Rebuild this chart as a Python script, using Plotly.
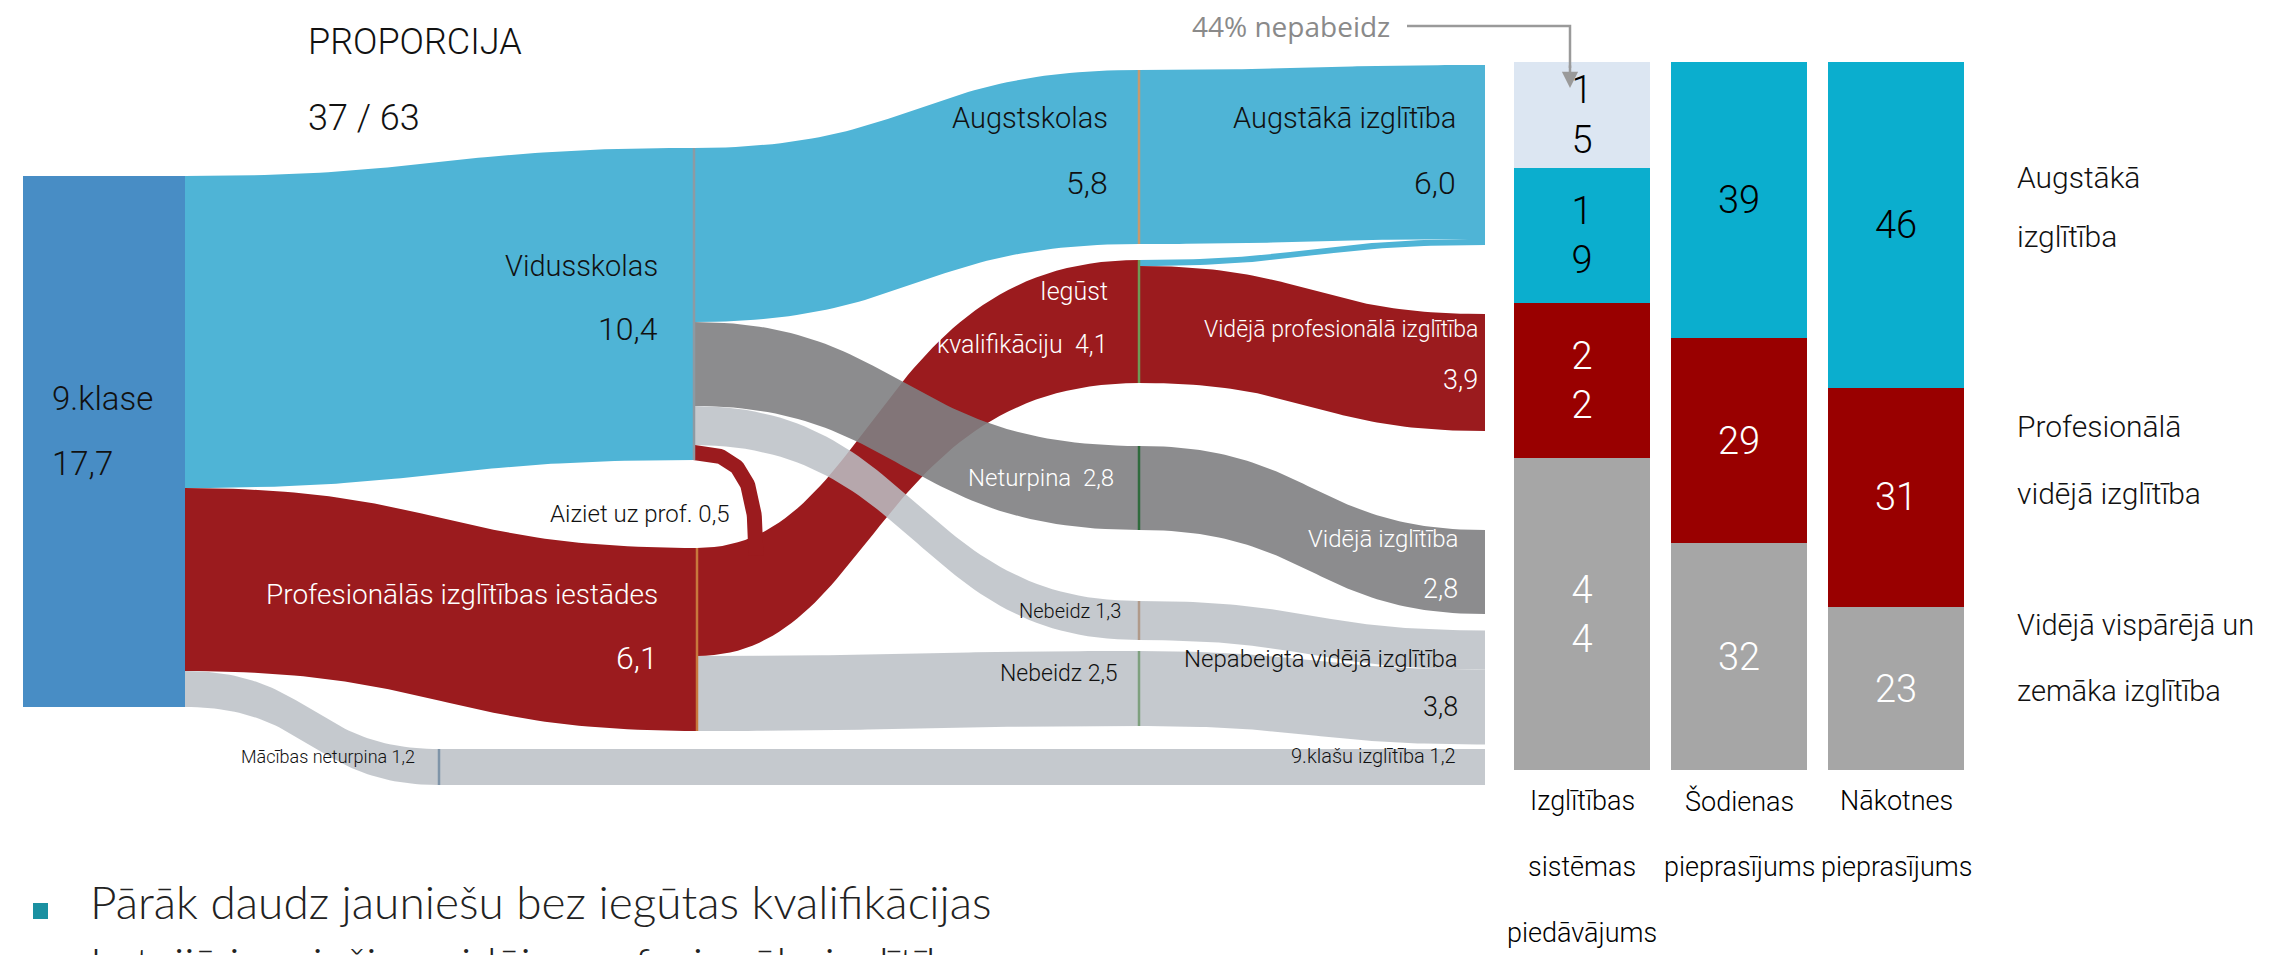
import plotly.graph_objects as go

W, H = 2272, 955
K = 30.0  # pixels per thousand pupils (vertical scale of the flow diagram)

# ---------------- DATA ----------------
node_names = ["9.klase", "Vidusskolas", "Profesionālās izglītības iestādes", "Mācības neturpina",
              "Augstskolas", "Iegūst kvalifikāciju", "Neturpina", "Nebeidz (vidusskola)", "Nebeidz (prof.)",
              "Augstākā izglītība", "Vidējā profesionālā izglītība", "Vidējā izglītība",
              "Nepabeigta vidējā izglītība", "9.klašu izglītība"]
node_values = [17.7, 10.4, 6.1, 1.2, 5.8, 4.1, 2.8, 1.3, 2.5, 6.0, 3.9, 2.8, 3.8, 1.2]

flow_source = [0, 0, 0, 1, 1, 1, 1, 2, 2, 4, 5, 5, 6, 7, 8, 3]
flow_target = [1, 2, 3, 4, 6, 7, 5, 5, 8, 9, 9, 10, 11, 12, 12, 13]
flow_value = [10.4, 6.1, 1.2, 5.8, 2.8, 1.3, 0.5, 3.6, 2.5, 5.8, 0.2, 3.9, 2.8, 1.3, 2.5, 1.2]

bar_categories = ["Izglītības sistēmas piedāvājums", "Šodienas pieprasījums", "Nākotnes pieprasījums"]
share_general = [44, 32, 23]
share_prof = [22, 29, 31]
share_higher = [19, 39, 46]
share_higher_dropout = [15, 0, 0]

# ---------------- LAYOUT / STYLE ----------------
NODE_X = [177, 686, 689, 431, 1131, 1131, 1131, 1131, 1131, 1477, 1477, 1477, 1477, 1477]
NODE_TOP = [5.6, 4.667, 18.0, 24.7, 2.067, 8.4, 14.6, 19.767, 21.433, 1.9, 10.2, 17.4, 20.75, 24.7]
BLOCK_LEFT = 15  # left edge of the 9.klase block
BEND = {7: 0.40, 4: 0.47}  # where along the span a flow changes level (default 0.5)

BLUE_NODE = "rgb(72,141,197)"
BLUE = "rgb(79,180,214)"
RED = "rgb(155,27,30)"
DGREY = "rgba(127,128,130,0.9)"
LGREY = "rgba(187,191,197,0.85)"
flow_color = [BLUE, RED, LGREY, BLUE, DGREY, LGREY, RED, RED, LGREY, BLUE, BLUE, RED, DGREY, LGREY, LGREY, LGREY]
node_line_color = [None, "#8d9aa3", "#c8783c", "#7f94a8", "#c89a6e", "#6f9a55", "#2f6b3c",
                   "#b09a8a", "#7ea07e", None, None, None, None, None]
LOOP_FLOW = 6  # "Aiziet uz prof." drawn as a loop joining the red stream

BAR_GREY = "#a6a6a6"
BAR_RED = "#990000"
BAR_BLUE = "rgb(11,174,206)"
BAR_LIGHT = "rgb(220,230,242)"

COND = "Roboto, Liberation Sans, sans-serif"
LIGHT = "Lato, Open Sans, Noto Sans, sans-serif"

# ---------------- FLOW GEOMETRY ----------------
out_off = [0.0] * len(node_names)
in_off = [0.0] * len(node_names)
slots = []
for s, t, v in zip(flow_source, flow_target, flow_value):
    y0 = NODE_TOP[s] + out_off[s]
    y1 = NODE_TOP[t] + in_off[t]
    out_off[s] += v
    in_off[t] += v
    slots.append((y0, y1))


def bez(p0, p1, p2, p3, n=60):
    pts = []
    for i in range(n + 1):
        t = i / n
        a, b, c, d = (1 - t) ** 3, 3 * t * (1 - t) ** 2, 3 * t * t * (1 - t), t ** 3
        pts.append((a * p0[0] + b * p1[0] + c * p2[0] + d * p3[0],
                    a * p0[1] + b * p1[1] + c * p2[1] + d * p3[1]))
    return pts


def ribbon(x0, a0, b0, x1, a1, b1, f=0.5):
    xm = x0 + f * (x1 - x0)
    top = bez((x0, a0), (xm, a0), (xm, a1), (x1, a1))
    bot = bez((x1, b1), (xm, b1), (xm, b0), (x0, b0))
    pts = top + bot + [top[0]]
    return [p[0] for p in pts], [p[1] for p in pts]


fig = go.Figure()

# 9.klase block
top0 = NODE_TOP[0]
fig.add_trace(go.Scatter(
    x=[BLOCK_LEFT, NODE_X[0], NODE_X[0], BLOCK_LEFT, BLOCK_LEFT],
    y=[top0, top0, top0 + node_values[0], top0 + node_values[0], top0],
    fill="toself", fillcolor=BLUE_NODE, mode="lines", line=dict(width=0),
    hoverinfo="skip", showlegend=False, xaxis="x", yaxis="y"))

draw_order = [i for i, c in enumerate(flow_color) if c in (BLUE, RED)] + \
             [i for i, c in enumerate(flow_color) if c == DGREY] + \
             [i for i, c in enumerate(flow_color) if c == LGREY]

for i in draw_order:
    if i == LOOP_FLOW:
        continue
    s, t, v = flow_source[i], flow_target[i], flow_value[i]
    (y0, y1) = slots[i]
    a0, b0 = y0, y0 + v
    a1, b1 = y1, y1 + v
    # the red stream into "Iegūst" also carries the looped 0.5 from Vidusskolas
    if t == flow_target[LOOP_FLOW] and s != flow_source[LOOP_FLOW]:
        a1 = slots[LOOP_FLOW][1]
    xs, ys = ribbon(NODE_X[s], a0, b0, NODE_X[t], a1, b1, BEND.get(i, 0.5))
    fig.add_trace(go.Scatter(x=xs, y=ys, fill="toself", fillcolor=flow_color[i], mode="lines",
                             line=dict(width=0), hoverinfo="skip", showlegend=False))

# loop: Aiziet uz prof. 0,5 (thick stroke of width = value * K)
lv = flow_value[LOOP_FLOW]
ls = flow_source[LOOP_FLOW]
ymid = slots[LOOP_FLOW][0] + lv / 2
xa = NODE_X[ls]
yend = NODE_TOP[2] + 0.25
loop = bez((xa, ymid), (xa + 50, ymid), (xa + 62, ymid + 1.0), (xa + 62, yend))
fig.add_trace(go.Scatter(x=[p[0] for p in loop], y=[p[1] for p in loop], mode="lines",
                         line=dict(color=RED, width=lv * K), hoverinfo="skip", showlegend=False))

# node lines
for n, c in enumerate(node_line_color):
    if c is None:
        continue
    fig.add_trace(go.Scatter(x=[NODE_X[n], NODE_X[n]], y=[NODE_TOP[n], NODE_TOP[n] + node_values[n]],
                             mode="lines", line=dict(color=c, width=2.5), hoverinfo="skip", showlegend=False))

# ---------------- STACKED BARS ----------------
def bar_text(vals):
    out = []
    for j, v in enumerate(vals):
        if not v:
            out.append("")
        elif j == 0:
            out.append("<br>".join(str(v)))
        else:
            out.append(str(v))
    return out


for vals, col, tcol in [(share_general, BAR_GREY, "white"), (share_prof, BAR_RED, "white"),
                        (share_higher, BAR_BLUE, "black"), (share_higher_dropout, BAR_LIGHT, "black")]:
    fig.add_trace(go.Bar(
        x=bar_categories, y=vals, marker=dict(color=col, line=dict(width=0)),
        text=bar_text(vals), textposition="inside", insidetextanchor="middle", textangle=0,
        textfont=dict(family=COND, size=38, color=tcol, weight=300), hoverinfo="skip", showlegend=False,
        xaxis="x2", yaxis="y2"))


def px(x):
    return x / W


def py(y):
    return 1 - y / H


fig.update_layout(
    width=W, height=H, margin=dict(l=0, r=0, t=0, b=0, pad=0, autoexpand=False),
    paper_bgcolor="white", plot_bgcolor="rgba(0,0,0,0)",
    barmode="stack", bargap=0.134,
    xaxis=dict(domain=[0, 1], range=[0, W], visible=False, fixedrange=True, automargin=False),
    yaxis=dict(domain=[0, 1], range=[H / K, 0], visible=False, fixedrange=True, automargin=False),
    xaxis2=dict(domain=[px(1495.5), px(1966.5)], anchor="y2", showline=False, showgrid=False,
                zeroline=False, ticks="", showticklabels=False, automargin=False),
    yaxis2=dict(domain=[py(762), py(54)], anchor="x2", range=[0, 100], visible=False, automargin=False),
)

# category labels under the bars, one word per line, placed on the category axis
for cat in bar_categories:
    for k, word in enumerate(cat.split(" ")):
        fig.add_annotation(text=word, x=cat, xref="x2", y=py(793 + 66 * k), yref="paper",
                           xanchor="center", yanchor="middle", showarrow=False,
                           font=dict(family=COND, size=27, color="black", weight=300))

# ---------------- TEXT ----------------
BLK, WHT = "#111111", "white"
labels = [
    ("PROPORCIJA", 298, 34, "left", 36, BLK),
    ("37 / 63", 298, 110, "left", 36, BLK),
    ("9.klase", 42, 391, "left", 33, BLK),
    ("17,7", 42, 455, "left", 33, BLK),
    ("Vidusskolas", 652, 258, "right", 29, BLK),
    ("10,4", 652, 321, "right", 32, BLK),
    ("Augstskolas", 1102, 110, "right", 29, BLK),
    ("5,8", 1102, 175, "right", 32, BLK),
    ("Augstākā izglītība", 1450, 110, "right", 29, BLK),
    ("6,0", 1450, 175, "right", 32, BLK),
    ("Iegūst", 1102, 283, "right", 25, WHT),
    ("kvalifikāciju  4,1", 1102, 336, "right", 25, WHT),
    ("Vidējā profesionālā izglītība", 1472, 321, "right", 23, WHT),
    ("3,9", 1472, 372, "right", 27, WHT),
    ("Neturpina  2,8", 1108, 470, "right", 24, WHT),
    ("Aiziet uz prof. 0,5", 724, 506, "right", 24, BLK),
    ("Profesionālās izglītības iestādes", 652, 586, "right", 28, WHT),
    ("6,1", 652, 650, "right", 32, WHT),
    ("Vidējā izglītība", 1452, 531, "right", 24, WHT),
    ("2,8", 1452, 581, "right", 27, WHT),
    ("Nebeidz 1,3", 1115, 603, "right", 20, BLK),
    ("Nebeidz 2,5", 1112, 665, "right", 23, BLK),
    ("Nepabeigta vidējā izglītība", 1452, 651, "right", 24, BLK),
    ("3,8", 1452, 699, "right", 27, BLK),
    ("Mācības neturpina 1,2", 409, 748, "right", 18, BLK),
    ("9.klašu izglītība 1,2", 1450, 748, "right", 20, BLK),
    ("Augstākā", 2007, 169, "left", 30, BLK),
    ("izglītība", 2007, 228, "left", 30, BLK),
    ("Profesionālā", 2007, 419, "left", 30, BLK),
    ("vidējā izglītība", 2007, 485, "left", 30, BLK),
    ("Vidējā vispārējā un", 2007, 617, "left", 29, BLK),
    ("zemāka izglītība", 2007, 683, "left", 29, BLK),
]
for txt, x, y, anc, size, col in labels:
    fig.add_annotation(text=txt, x=px(x), y=py(y), xref="paper", yref="paper", xanchor=anc,
                       yanchor="middle", showarrow=False, align=anc,
                       font=dict(family=COND, size=size, color=col, weight=300))

# 44% nepabeidz pointer
fig.add_annotation(text="44% nepabeidz", x=px(1384), y=py(18), xref="paper", yref="paper",
                   xanchor="right", yanchor="middle", showarrow=False,
                   font=dict(family="Open Sans, Noto Sans, sans-serif", size=28, color="#8a8a8a"))
fig.add_shape(type="path", xref="paper", yref="paper",
              path=f"M {px(1399)},{py(18)} L {px(1562)},{py(18)} L {px(1562)},{py(60)}",
              line=dict(color="#9a9a9a", width=2.5))
fig.add_annotation(text="", x=px(1562), y=py(80), xref="paper", yref="paper", showarrow=True,
                   ax=0, ay=-24, arrowhead=2, arrowsize=1.3, arrowwidth=2.5, arrowcolor="#9a9a9a")

# bullets
for ytxt, txt in [(893, "Pārāk daudz jauniešu bez iegūtas kvalifikācijas"),
                  (955, "Latvijā jaunieši ar vidējo profesionālo izglītību")]:
    fig.add_shape(type="rect", xref="paper", yref="paper", x0=px(25), x1=px(40),
                  y0=py(ytxt + 2), y1=py(ytxt + 18), fillcolor="rgb(26,144,161)", line=dict(width=0))
    fig.add_annotation(text=txt, x=px(80), y=py(ytxt), xref="paper", yref="paper", xanchor="left",
                       yanchor="middle", showarrow=False,
                       font=dict(family=LIGHT, size=46, color="#222222", weight=300))

fig.write_html("out.html")
